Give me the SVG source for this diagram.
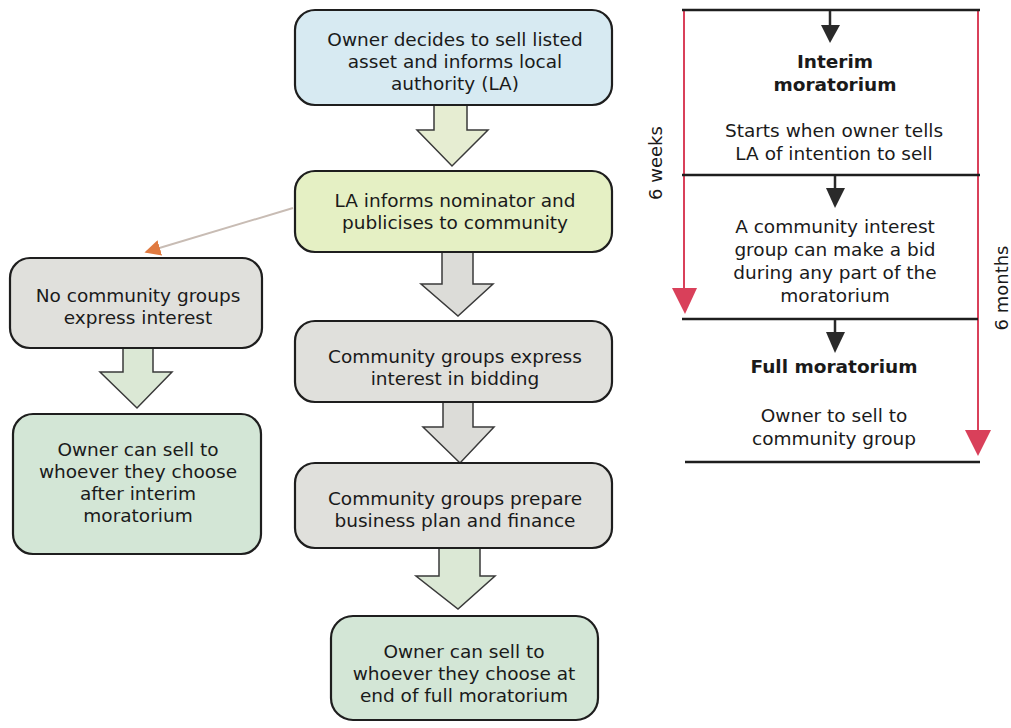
<svg xmlns="http://www.w3.org/2000/svg" width="1011" height="728" viewBox="0 0 1011 728">
<defs>
<style>
.node{stroke:#1e1e1e;stroke-width:2.2}
.t{font-family:"DejaVu Sans","Liberation Sans",sans-serif;font-size:18.5px;fill:#1a1a1a;text-anchor:middle}
.b{font-weight:bold}
.blk{stroke:#1e1e1e;stroke-width:2.5;fill:none}
.red{stroke:#d9405a;stroke-width:2;fill:none}
.bigarrow{stroke:#3a3a3a;stroke-width:1.5}
.dark{fill:#2a2a2a}
</style>
<marker id="or" viewBox="0 0 10 10" refX="9" refY="5" markerWidth="16" markerHeight="16" markerUnits="userSpaceOnUse" orient="auto"><path d="M0,0 L10,5 L0,10 Z" fill="#e07a40"/></marker>
</defs>
<rect width="1011" height="728" fill="#ffffff"/>

<g id="connectors">
<line x1="293" y1="208" x2="146" y2="252" stroke="#c8bcb4" stroke-width="2" marker-end="url(#or)"/>
<path class="bigarrow" fill="#e6edd2" d="M434,105 L467,105 L467,130 L488,130 L452,166 L417,130 L434,130 Z"/>
<path class="bigarrow" fill="#dcdcd8" d="M442,252 L473,252 L473,284 L493,284 L458,316 L421,284 L442,284 Z"/>
<path class="bigarrow" fill="#dcdcd8" d="M443,402 L473,402 L473,427 L494,427 L460,463 L423,427 L443,427 Z"/>
<path class="bigarrow" fill="#dbe8d5" d="M439,548 L480,548 L480,576 L495,576 L458,609 L416,576 L439,576 Z"/>
<path class="bigarrow" fill="#dbe8d5" d="M123,348 L153,348 L153,372 L172,372 L137,408 L100,372 L123,372 Z"/>
</g>

<g id="n1"><rect class="node" x="295" y="10" width="317" height="95" rx="20" fill="#d7eaf2"/>
<text class="t" x="455" y="46">Owner decides to sell listed</text>
<text class="t" x="455" y="68">asset and informs local</text>
<text class="t" x="455" y="90">authority (LA)</text></g>

<g id="n2"><rect class="node" x="295" y="171" width="317" height="81" rx="20" fill="#e5f0c4"/>
<text class="t" x="455" y="207">LA informs nominator and</text>
<text class="t" x="455" y="229">publicises to community</text></g>

<g id="n3"><rect class="node" x="295" y="321" width="317" height="81" rx="20" fill="#e0e0dc"/>
<text class="t" x="455" y="363">Community groups express</text>
<text class="t" x="455" y="385">interest in bidding</text></g>

<g id="n4"><rect class="node" x="295" y="463" width="317" height="85" rx="20" fill="#e0e0dc"/>
<text class="t" x="455" y="505">Community groups prepare</text>
<text class="t" x="455" y="527">business plan and finance</text></g>

<g id="n5"><rect class="node" x="331" y="616" width="267" height="104" rx="22" fill="#d3e6d6"/>
<text class="t" x="464" y="658">Owner can sell to</text>
<text class="t" x="464" y="680">whoever they choose at</text>
<text class="t" x="464" y="702">end of full moratorium</text></g>

<g id="l1"><rect class="node" x="10" y="258" width="252" height="90" rx="20" fill="#e0e0dc"/>
<text class="t" x="138" y="302">No community groups</text>
<text class="t" x="138" y="324">express interest</text></g>

<g id="l2"><rect class="node" x="13" y="414" width="248" height="140" rx="20" fill="#d3e6d6"/>
<text class="t" x="138" y="456">Owner can sell to</text>
<text class="t" x="138" y="478">whoever they choose</text>
<text class="t" x="138" y="500">after interim</text>
<text class="t" x="138" y="522">moratorium</text></g>

<g id="timeline">
<line class="red" x1="684" y1="10" x2="684" y2="292"/>
<path d="M672,288 L697,288 L685,314 Z" fill="#d9405a"/>
<line class="red" x1="978" y1="10" x2="978" y2="434"/>
<path d="M965,430 L991,430 L978,456 Z" fill="#d9405a"/>
<line class="blk" x1="682" y1="10" x2="980" y2="10"/>
<line class="blk" x1="682" y1="175" x2="980" y2="175"/>
<line class="blk" x1="682" y1="319" x2="978" y2="319"/>
<line class="blk" x1="685" y1="462" x2="980" y2="462"/>
<line x1="830" y1="11" x2="830" y2="28" stroke="#2a2a2a" stroke-width="2.5"/>
<path class="dark" d="M821,25 L840,25 L830,43 Z"/>
<line x1="835" y1="176" x2="835" y2="191" stroke="#2a2a2a" stroke-width="2.5"/>
<path class="dark" d="M826,188 L845,188 L835,208 Z"/>
<line x1="835" y1="320" x2="835" y2="335" stroke="#2a2a2a" stroke-width="2.5"/>
<path class="dark" d="M826,332 L845,332 L835,353 Z"/>
<text class="t b" x="835" y="68">Interim</text>
<text class="t b" x="835" y="91">moratorium</text>
<text class="t" x="834" y="137">Starts when owner tells</text>
<text class="t" x="834" y="160">LA of intention to sell</text>
<text class="t" x="835" y="233">A community interest</text>
<text class="t" x="835" y="256">group can make a bid</text>
<text class="t" x="835" y="279">during any part of the</text>
<text class="t" x="835" y="302">moratorium</text>
<text class="t b" x="834" y="373">Full moratorium</text>
<text class="t" x="834" y="422">Owner to sell to</text>
<text class="t" x="834" y="445">community group</text>
<text class="t" style="font-size:18px" transform="translate(662,163) rotate(-90)">6 weeks</text>
<text class="t" style="font-size:18px" transform="translate(1008,288) rotate(-90)">6 months</text>
</g>
</svg>
